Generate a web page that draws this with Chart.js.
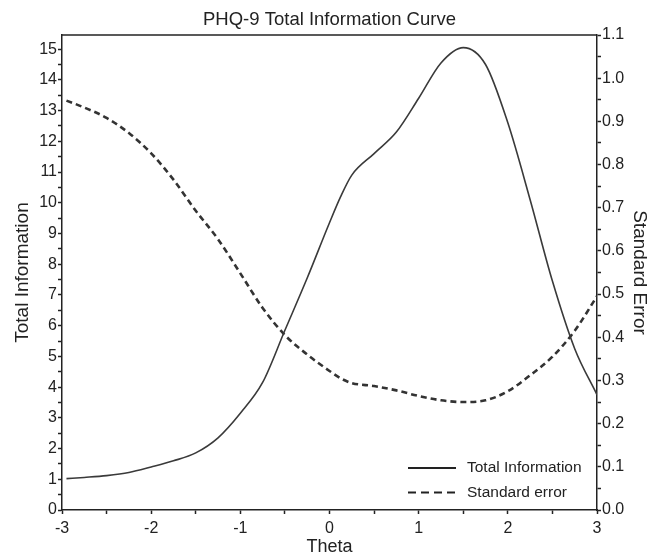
<!DOCTYPE html>
<html>
<head>
<meta charset="utf-8">
<title>PHQ-9 Total Information Curve</title>
<script src="https://cdn.jsdelivr.net/npm/chart.js@4.4.1/dist/chart.umd.min.js"></script>
<style>
  html, body { margin: 0; padding: 0; background: #fff; }
  #wrap { width: 647px; height: 553px; }
</style>
</head>
<body>
<div id="wrap"><canvas id="chart" width="647" height="553"></canvas></div>
<script>
// theta grid shared by both curves
const theta = [-2.95, -2.75, -2.5, -2.25, -2.0, -1.75, -1.5, -1.25, -1.0, -0.75, -0.5, -0.25,
               0.0, 0.125, 0.25, 0.5, 0.75, 1.0, 1.25, 1.5, 1.75, 2.0, 2.25, 2.5, 2.75, 3.0];

const totalInfo = [1.02, 1.06, 1.12, 1.22, 1.40, 1.60, 1.86, 2.35, 3.15, 4.15, 5.85, 7.55,
                   9.35, 10.2, 10.9, 11.6, 12.3, 13.4, 14.55, 15.05, 14.5, 12.6, 10.1, 7.45, 5.25, 3.75];

const stdError = [0.948, 0.932, 0.908, 0.873, 0.826, 0.765, 0.693, 0.627, 0.548, 0.468, 0.405, 0.360,
                  0.322, 0.305, 0.294, 0.287, 0.277, 0.264, 0.254, 0.250, 0.254, 0.275, 0.312, 0.355, 0.415, 0.495];

const seriesLabels = ['Total Information', 'Standard error'];
const xTickLabels = ['-3', '-2', '-1', '0', '1', '2', '3'];
const infoTickLabels = ['0', '1', '2', '3', '4', '5', '6', '7', '8', '9', '10', '11', '12', '13', '14', '15'];
const seTickLabels = ['0.0', '0.1', '0.2', '0.3', '0.4', '0.5', '0.6', '0.7', '0.8', '0.9', '1.0', '1.1'];

const FONT = '"Liberation Sans", Arial, sans-serif';
const INK = '#222';
const LINE = '#3a3a3a';

// labelled ticks plus an unlabelled tick half way between each pair
function ticksWithMinor(labels) {
    const vals = labels.map(Number);
    const out = [];
    vals.forEach((v, i) => {
        out.push({ value: v });
        if (i < vals.length - 1) out.push({ value: (v + vals[i + 1]) / 2 });
    });
    return out;
}

function labelFor(labels) {
    return (value) => {
        const hit = labels.find(l => Math.abs(Number(l) - value) < 1e-6);
        return hit === undefined ? '' : hit;
    };
}

// top edge of the frame
const frameTop = {
    id: 'frameTop',
    afterDraw(chart) {
        const { ctx, chartArea } = chart;
        ctx.save();
        ctx.strokeStyle = INK;
        ctx.lineWidth = 1.5;
        ctx.beginPath();
        ctx.moveTo(chartArea.left, chartArea.top);
        ctx.lineTo(chartArea.right, chartArea.top);
        ctx.stroke();
        ctx.restore();
    }
};

// legend drawn inside the plot, bottom right
const insideLegend = {
    id: 'insideLegend',
    afterDraw(chart) {
        const { ctx, chartArea } = chart;
        const x0 = chartArea.right - 189;
        const y0 = chartArea.bottom - 42;
        ctx.save();
        ctx.font = '15.5px ' + FONT;
        ctx.textBaseline = 'middle';
        ctx.fillStyle = INK;
        chart.data.datasets.forEach((ds, i) => {
            const y = y0 + i * 24.5;
            ctx.strokeStyle = '#222';
            ctx.lineWidth = 2;
            ctx.setLineDash(ds.borderDash && ds.borderDash.length ? [8, 5] : []);
            ctx.beginPath();
            ctx.moveTo(x0, y);
            ctx.lineTo(x0 + 48, y);
            ctx.stroke();
            ctx.setLineDash([]);
            ctx.fillText(ds.label, x0 + 59, y);
        });
        ctx.restore();
    }
};

const tickGrid = { drawOnChartArea: false, drawTicks: true, tickLength: 4, color: INK, tickWidth: 1.5 };

const ctx = document.getElementById('chart');
new Chart(ctx, {
    type: 'line',
    data: {
        datasets: [
            {
                label: seriesLabels[0],
                data: theta.map((t, i) => ({ x: t, y: totalInfo[i] })),
                yAxisID: 'y',
                borderColor: LINE,
                borderWidth: 1.6,
                pointRadius: 0,
                cubicInterpolationMode: 'monotone'
            },
            {
                label: seriesLabels[1],
                data: theta.map((t, i) => ({ x: t, y: stdError[i] })),
                yAxisID: 'y1',
                borderColor: '#333',
                borderWidth: 2.6,
                borderDash: [6, 4],
                pointRadius: 0,
                cubicInterpolationMode: 'monotone'
            }
        ]
    },
    options: {
        responsive: false,
        devicePixelRatio: 1,
        animation: false,
        layout: { padding: 0 },
        plugins: {
            legend: { display: false },
            tooltip: { enabled: false },
            title: {
                display: true,
                text: 'PHQ-9 Total Information Curve',
                fullSize: false,
                color: INK,
                font: { family: FONT, size: 18.5, weight: 'normal' },
                padding: { top: 9, bottom: 3.8 }
            }
        },
        scales: {
            x: {
                type: 'linear',
                min: -3,
                max: 3,
                afterFit: (scale) => { scale.height = 43; },
                afterBuildTicks: (scale) => { scale.ticks = ticksWithMinor(xTickLabels); },
                border: { color: INK, width: 1.5 },
                grid: tickGrid,
                ticks: {
                    autoSkip: false,
                    maxRotation: 0,
                    padding: 5,
                    color: INK,
                    font: { family: FONT, size: 16 },
                    callback: labelFor(xTickLabels)
                },
                title: {
                    display: true,
                    text: 'Theta',
                    color: INK,
                    font: { family: FONT, size: 18 },
                    padding: { top: 0, bottom: -5 }
                }
            },
            y: {
                type: 'linear',
                position: 'left',
                min: 0,
                max: 15.46,
                afterFit: (scale) => { scale.width = 62; },
                afterBuildTicks: (scale) => { scale.ticks = ticksWithMinor(infoTickLabels); },
                border: { color: INK, width: 1.5 },
                grid: tickGrid,
                ticks: {
                    autoSkip: false,
                    padding: 1,
                    color: INK,
                    font: { family: FONT, size: 16 },
                    callback: labelFor(infoTickLabels)
                },
                title: {
                    display: true,
                    text: 'Total Information',
                    color: INK,
                    font: { family: FONT, size: 19 },
                    padding: { top: 11, bottom: 0 }
                }
            },
            y1: {
                type: 'linear',
                position: 'right',
                min: 0,
                max: 1.1,
                afterFit: (scale) => { scale.width = 50; },
                afterBuildTicks: (scale) => { scale.ticks = ticksWithMinor(seTickLabels); },
                border: { color: INK, width: 1.5 },
                grid: tickGrid,
                ticks: {
                    autoSkip: false,
                    padding: 1,
                    color: INK,
                    font: { family: FONT, size: 16 },
                    callback: labelFor(seTickLabels)
                },
                title: {
                    display: true,
                    text: 'Standard Error',
                    color: INK,
                    font: { family: FONT, size: 19 },
                    padding: { top: -4, bottom: 0 }
                }
            }
        }
    },
    plugins: [frameTop, insideLegend]
});
</script>
</body>
</html>
